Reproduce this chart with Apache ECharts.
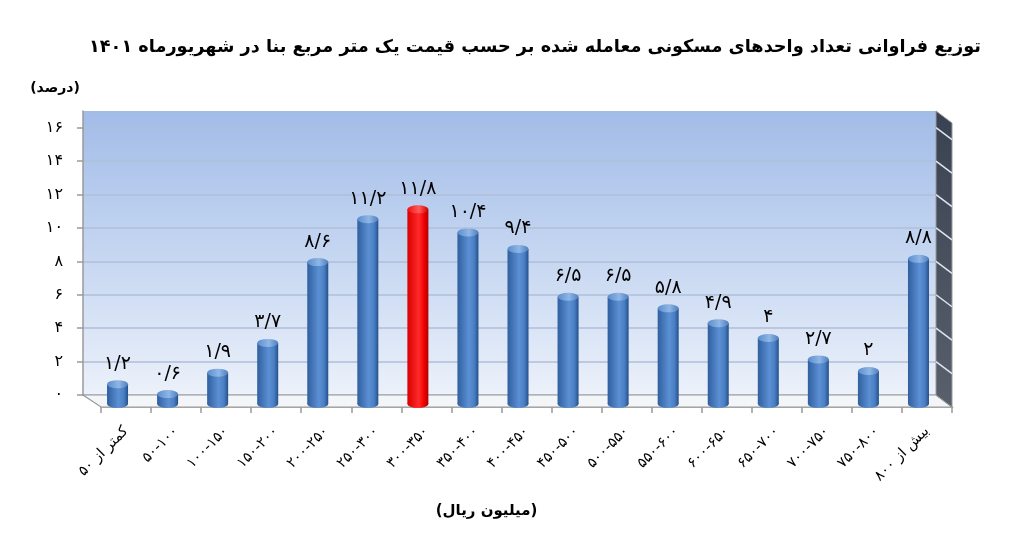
<!DOCTYPE html>
<html><head><meta charset="utf-8">
<script src="https://cdn.jsdelivr.net/npm/echarts@6/dist/echarts.min.js"></script>
<style>html,body{margin:0;padding:0;background:#fff}#c{width:1024px;height:558px}</style>
</head><body><div id="c"></div>
<script>
const titleText = 'توزیع فراوانی تعداد واحدهای مسکونی معامله شده بر حسب قیمت یک متر مربع بنا در شهریورماه ۱۴۰۱';
const yUnit = '(درصد)';
const xUnit = '(میلیون ریال)';
const categories = ['کمتر از ۵۰','۵۰-۱۰۰','۱۰۰-۱۵۰','۱۵۰-۲۰۰','۲۰۰-۲۵۰','۲۵۰-۳۰۰','۳۰۰-۳۵۰','۳۵۰-۴۰۰','۴۰۰-۴۵۰','۴۵۰-۵۰۰','۵۰۰-۵۵۰','۵۵۰-۶۰۰','۶۰۰-۶۵۰','۶۵۰-۷۰۰','۷۰۰-۷۵۰','۷۵۰-۸۰۰','بیش از ۸۰۰'];
const values = [1.2,0.6,1.9,3.7,8.6,11.2,11.8,10.4,9.4,6.5,6.5,5.8,4.9,4,2.7,2,8.8];
const highlightIndex = 6;
const yTicks = [0,2,4,6,8,10,12,14,16];
const yMax = 17;

const FONT = 'DejaVu Sans';
function fa(n){ return String(n).replace('.', '/').replace(/[0-9]/g, d => '۰۱۲۳۴۵۶۷۸۹'[d]); }
function grad(c1,c2,c3,c4){
  return new echarts.graphic.LinearGradient(0,0,1,0,[
    {offset:0,color:c1},{offset:0.55,color:c2},{offset:0.8,color:c3},{offset:1,color:c4}]);
}
const blueBody = () => grad('#2f5f9f','#5c90d4','#4a7fc4','#24508a');
const redBody = () => grad('#d80000','#ff2a2a','#f00000','#b00000');
const blueCap = () => new echarts.graphic.LinearGradient(0,0,1,0,[{offset:0,color:'#5b8dcc'},{offset:0.55,color:'#8fb6e6'},{offset:1,color:'#4f7fbf'}]);
const redCap = () => new echarts.graphic.LinearGradient(0,0,1,0,[{offset:0,color:'#f01010'},{offset:0.55,color:'#ff5a5a'},{offset:1,color:'#d00000'}]);

const bodyData = values.map((v,i)=>({value:v,itemStyle:{color:i===highlightIndex?redBody():blueBody()}}));
const capData = values.map((v,i)=>({value:v,itemStyle:{color:i===highlightIndex?redCap():blueCap()}}));
const baseData = values.map((v,i)=>({value:v,itemStyle:{color:i===highlightIndex?redBody():blueBody()}}));

const chart = echarts.init(document.getElementById('c'));
const option = {
  backgroundColor:'#ffffff',
  animation:false,
  title:{text:titleText,left:530,textAlign:'center',top:33,textStyle:{fontFamily:FONT,fontSize:17.7,fontWeight:'bold',color:'#000'}},
  grid:[
    {left:83,right:88,top:111,bottom:163,show:true,borderWidth:0,
     backgroundColor:new echarts.graphic.LinearGradient(0,0,0,1,[{offset:0,color:'#a2bce8'},{offset:0.5,color:'#c5d6f1'},{offset:1,color:'#ecf1fa'}])},
    {left:92.5,right:80.5,top:123.5,bottom:154},
    {left:101,right:72,top:111,bottom:151}
  ],
  xAxis:[
    {gridIndex:0,type:'category',data:categories,show:false},
    {gridIndex:1,type:'category',data:categories,show:false},
    {gridIndex:2,type:'category',data:categories,
     axisLine:{show:true,lineStyle:{color:'#9a9a9a',width:1.5}},
     axisTick:{show:true,length:6,lineStyle:{color:'#9a9a9a',width:1.5}},
     axisLabel:{rotate:45,margin:22,fontFamily:FONT,fontSize:14.5,color:'#000',interval:0},
     name:xUnit,nameLocation:'middle',nameGap:97,nameTextStyle:{fontFamily:FONT,fontSize:15,fontWeight:'bold',color:'#000',padding:[0,0,0,-80]}}
  ],
  yAxis:[
    {gridIndex:0,type:'value',min:0,max:yMax,
     axisLine:{show:true,lineStyle:{color:'#9a9a9a',width:1.5}},
     axisTick:{show:true,length:6,customValues:yTicks,lineStyle:{color:'#9a9a9a',width:1.5}},
     axisLabel:{customValues:yTicks,margin:20,fontFamily:FONT,fontSize:16,color:'#000',formatter:v=>fa(v)},
     splitLine:{show:true,lineStyle:{color:'#aebfd9',width:1.5}},
     name:yUnit,nameLocation:'end',nameGap:16,nameTextStyle:{fontFamily:FONT,fontSize:14,fontWeight:'bold',color:'#000',align:'center',padding:[0,0,0,-56]}},
    {gridIndex:1,type:'value',min:0,max:yMax,show:false,splitLine:{show:false}},
    {gridIndex:2,type:'value',min:0,max:yMax,show:false,splitLine:{show:false}}
  ],
  series:[
    {type:'bar',xAxisIndex:1,yAxisIndex:1,data:bodyData,barWidth:21,z:3},
    {type:'pictorialBar',xAxisIndex:1,yAxisIndex:1,data:baseData,symbol:'circle',symbolSize:[21,8],symbolPosition:'start',symbolOffset:[0,'50%'],barGap:'-100%',z:2},
    {type:'pictorialBar',xAxisIndex:1,yAxisIndex:1,data:capData,symbol:'circle',symbolSize:[21,8],symbolPosition:'end',symbolOffset:[0,'-50%'],barGap:'-100%',z:4,
     label:{show:true,position:'top',distance:7,fontFamily:FONT,fontSize:19,color:'#000',formatter:p=>fa(p.value)}}
  ]
};
chart.setOption(option);

// 3D decoration: floor and right side wall derived from grid/axis positions
const y0 = chart.convertToPixel({yAxisIndex:0},0);
const yTop = chart.convertToPixel({yAxisIndex:0},yMax);
const xL = 83, xR = 1024-88, fxL = 101, fxR = 1024-72, fy = 558-151;
const dy = fy - y0;
const graphics = [
  {type:'polygon',z:1,shape:{points:[[xL,y0],[xR,y0],[fxR,fy],[fxL,fy]]},style:{fill:'#f3f5f8',stroke:'#9a9a9a',lineWidth:1.2}},
  {type:'polygon',z:1,shape:{points:[[xR,yTop],[fxR,yTop+dy],[fxR,fy],[xR,y0]]},
   style:{fill:new echarts.graphic.LinearGradient(0,0,0,1,[{offset:0,color:'#394252'},{offset:1,color:'#59606c'}]),stroke:'#9a9a9a',lineWidth:1}}
];
yTicks.forEach(v=>{
  const y = chart.convertToPixel({yAxisIndex:0},v);
  if(v>0) graphics.push({type:'line',z:2,shape:{x1:xR,y1:y,x2:fxR,y2:y+dy},style:{stroke:'#dde5f2',lineWidth:1.5}});
});
chart.setOption({graphic:graphics});
</script></body></html>
